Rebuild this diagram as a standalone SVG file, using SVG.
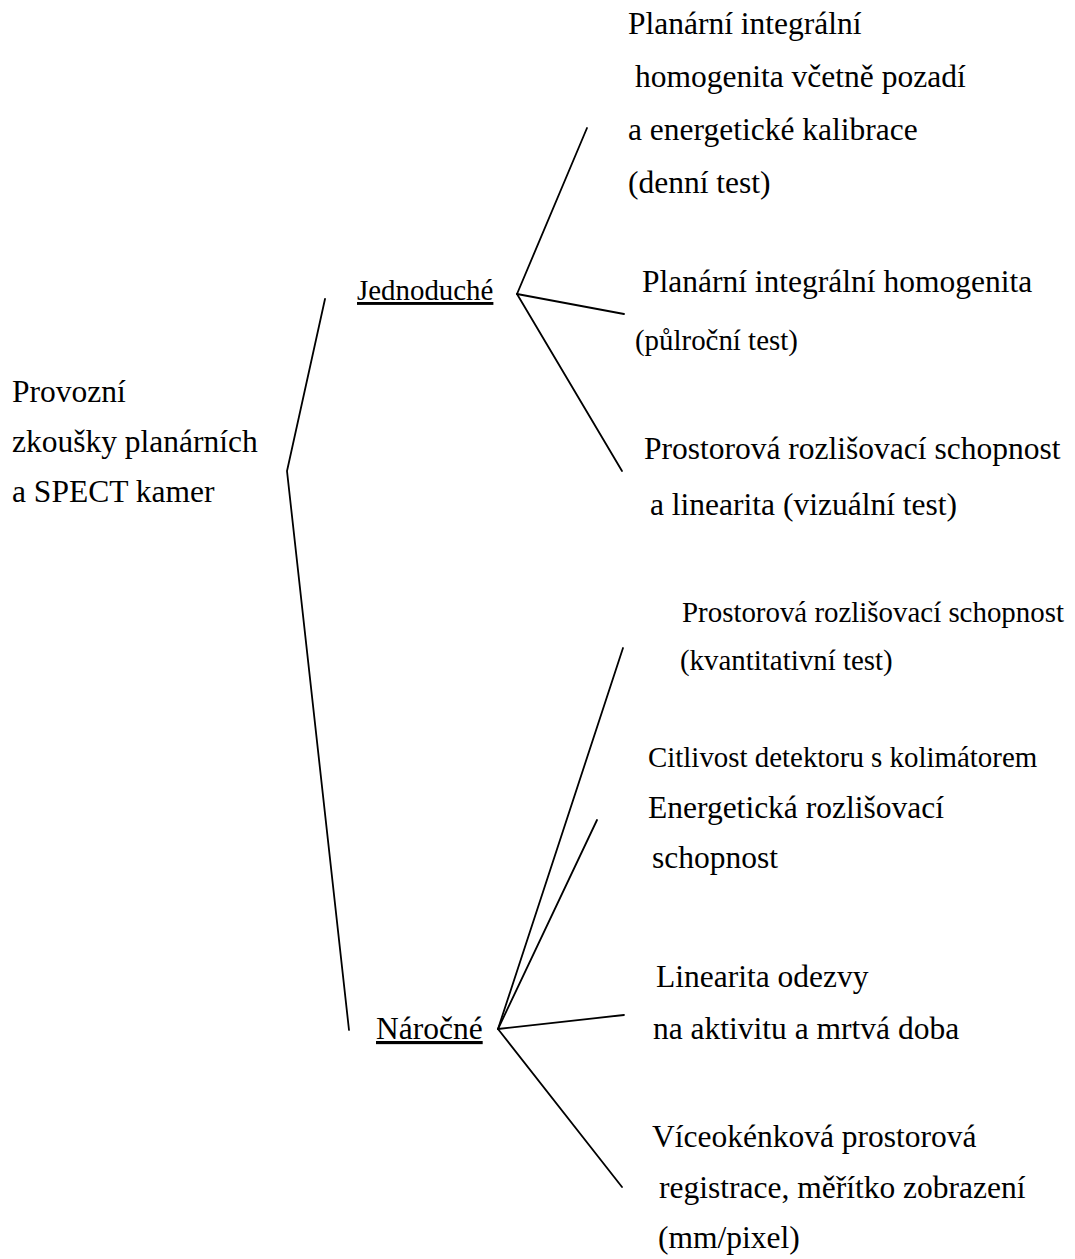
<svg xmlns="http://www.w3.org/2000/svg" width="1075" height="1259" viewBox="0 0 1075 1259">
<style>
text{font-family:"Liberation Serif","Times New Roman",serif;fill:#000}
.l{font-size:31.5px}
.s{font-size:28.9px}
.u{text-decoration:underline}
.c{stroke:#000;stroke-width:1.8;fill:none;stroke-linecap:round;stroke-linejoin:miter}
</style>
<rect width="1075" height="1259" fill="#fff"/>
<g id="connectors">
<polyline class="c" points="325,299 287,471 349,1030"/>
<line class="c" x1="517" y1="294" x2="587" y2="128"/>
<line class="c" x1="517" y1="294" x2="624" y2="314"/>
<line class="c" x1="517" y1="294" x2="622" y2="471"/>
<line class="c" x1="498" y1="1029" x2="623" y2="648"/>
<line class="c" x1="498" y1="1029" x2="597" y2="820"/>
<line class="c" x1="498" y1="1029" x2="624" y2="1015"/>
<line class="c" x1="498" y1="1029" x2="622" y2="1187"/>
</g>
<g id="root">
<text class="l" x="12" y="402">Provozní</text>
<text class="l" x="12" y="452">zkoušky planárních</text>
<text class="l" x="12" y="502">a SPECT kamer</text>
</g>
<g id="jednoduche">
<text class="s u" x="357" y="300">Jednoduché</text>
</g>
<g id="narocne">
<text class="l u" x="376" y="1039">Náročné</text>
</g>
<g id="j1">
<text class="l" x="628" y="34">Planární integrální</text>
<text class="l" x="635" y="87">homogenita včetně pozadí</text>
<text class="l" x="628" y="140">a energetické kalibrace</text>
<text class="l" x="628" y="193">(denní test)</text>
</g>
<g id="j2">
<text class="l" x="642" y="292">Planární integrální homogenita</text>
<text class="s" x="635" y="350">(půlroční test)</text>
</g>
<g id="j3">
<text class="l" x="644" y="459">Prostorová rozlišovací schopnost</text>
<text class="l" x="650" y="515">a linearita (vizuální test)</text>
</g>
<g id="n1">
<text class="s" x="682" y="622">Prostorová rozlišovací schopnost</text>
<text class="s" x="680" y="670">(kvantitativní test)</text>
</g>
<g id="n2">
<text class="s" x="648" y="767">Citlivost detektoru s kolimátorem</text>
</g>
<g id="n3">
<text class="l" x="648" y="818">Energetická rozlišovací</text>
<text class="l" x="652" y="868">schopnost</text>
</g>
<g id="n4">
<text class="l" x="656" y="987">Linearita odezvy</text>
<text class="l" x="653" y="1039">na aktivitu a mrtvá doba</text>
</g>
<g id="n5">
<text class="l" x="652" y="1147">Víceokénková prostorová</text>
<text class="l" x="659" y="1198">registrace, měřítko zobrazení</text>
<text class="l" x="658" y="1248">(mm/pixel)</text>
</g>
</svg>
